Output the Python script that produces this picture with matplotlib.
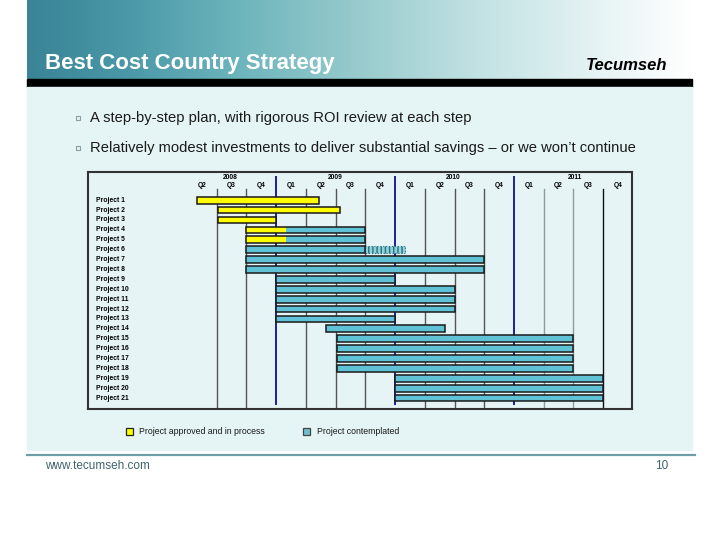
import numpy as np
import matplotlib
matplotlib.use("Agg")
import matplotlib.pyplot as plt
from matplotlib.colors import LinearSegmentedColormap
from matplotlib.patches import Rectangle

plt.rcParams["font.family"] = ["Liberation Sans", "DejaVu Sans"]

# ---- data ----
title = "Best Cost Country Strategy"
bullets = ["A step-by-step plan, with rigorous ROI review at each step",
           "Relatively modest investments to deliver substantial savings \u2013 or we won\u2019t continue"]
projects = ["Project %d" % i for i in range(1, 22)]
quarters = ["Q2", "Q3", "Q4",
            "Q1", "Q2", "Q3", "Q4",
            "Q1", "Q2", "Q3", "Q4",
            "Q1", "Q2", "Q3", "Q4"]
years = ["2008", "2009", "2010", "2011"]
year_pos = [1.45, 5.0, 8.95, 13.05]   # in quarters from 2008 Q2
nan = np.nan
# approved and in process (yellow), in quarters from start of 2008 Q2
approved_start = [0.33, 1.05, 1.05, 2.0, 2.0] + [nan] * 16
approved_end = [4.45, 5.15, 3.0, 3.33, 3.33] + [nan] * 16
# contemplated (cyan)
contemp_start = [nan, nan, nan, 3.33, 3.33, 2.0, 2.0, 2.0, 3.0, 3.0, 3.0,
                 3.0, 3.0, 4.67, 5.05, 5.05, 5.05, 5.05, 7.0, 7.0, 7.0]
contemp_end = [nan, nan, nan, 6.0, 6.0, 6.0, 10.0, 10.0, 7.0, 9.0, 9.0,
               9.0, 7.0, 8.67, 13.0, 13.0, 13.0, 13.0, 14.0, 14.0, 14.0]
# tentative extension (hatched)
tent_start = [nan] * 5 + [6.0] + [nan] * 15
tent_end = [nan] * 5 + [7.33] + [nan] * 15
legend_labels = ["Project approved and in process", "Project contemplated"]

YELLOW = "#ffff00"
CYAN = "#5fc2d6"

fig = plt.figure(figsize=(7.2, 5.4), dpi=100)

# ---- slide background (pixel coords) ----
bg = fig.add_axes([0, 0, 1, 1])
bg.set_xlim(0, 720)
bg.set_ylim(540, 0)
bg.axis("off")

cmap = LinearSegmentedColormap.from_list(
    "hdr", [(0.0, "#398496"), (0.15, "#4a98a8"), (0.32, "#6db5bc"),
            (0.50, "#98cbcd"), (0.68, "#c2e2e3"), (0.86, "#e6f3f4"),
            (1.0, "#ffffff")])
grad = np.linspace(0, 1, 256).reshape(1, -1)
bg.imshow(grad, cmap=cmap, aspect="auto", extent=[27, 692, 79, 0], zorder=0)
bg.add_patch(Rectangle((27, 79), 665, 8, color="black", zorder=1))
bg.add_patch(Rectangle((27, 87), 665, 363, color="#e5f4f5", zorder=1))
bg.plot([27, 695], [454.5, 454.5], color="#6f9fa6", lw=1.6, zorder=2)

bg.text(45, 63, title, color="white", fontsize=16, fontweight="bold",
        va="center", ha="left", zorder=3)
bg.text(627, 65, "Tecumseh", color="black", fontsize=12, fontweight="bold",
        fontstyle="italic", va="center", ha="center", zorder=3)

for k, b in enumerate(bullets):
    yy = 118 + 30 * k
    bg.plot(78, yy, marker="s", ms=2.6, mfc="#e5f4f5", mec="#8a9ea2", mew=0.8, zorder=3)
    bg.text(90, yy, b, fontsize=10.6, color="#1a1a1a", va="center", ha="left", zorder=3)

bg.text(45, 466, "www.tecumseh.com", fontsize=8.5, color="#40646b", va="center", zorder=3)
bg.text(668, 466, "10", fontsize=8.5, color="#40646b", va="center", ha="right", zorder=3)

# legend
bg.add_patch(Rectangle((125.5, 427.5), 7, 7, facecolor=YELLOW, edgecolor="#222222", lw=0.9, zorder=3))
bg.text(139, 431, legend_labels[0], fontsize=6.3, color="#1a1a1a", va="center", zorder=3)
bg.add_patch(Rectangle((302.5, 427.5), 7, 7, facecolor="#6fc0cc", edgecolor="#444444", lw=0.9, zorder=3))
bg.text(317, 431, legend_labels[1], fontsize=6.3, color="#1a1a1a", va="center", zorder=3)

# ---- gantt ----
x0, x1, y0, y1 = 88, 632, 172, 408.5
ax = fig.add_axes([x0 / 720, 1 - y1 / 540, (x1 - x0) / 720, (y1 - y0) / 540])
ax.set_facecolor("#e6f4f6")
ax.set_xlim(-3.33, 14.97)
ax.set_ylim(21.05, -2.85)
ax.set_xticks([])
ax.set_yticks([])
for s in ax.spines.values():
    s.set_color("#333333")
    s.set_linewidth(1.5)

# quarter boundary lines
for q in range(1, 15):
    if q in (3, 7, 11):
        ax.plot([q, q], [-2.35, 20.55], color="#1f1f9a", lw=1.4, zorder=1)
    else:
        c = "#111111" if q == 14 else ("#8f9c9e" if q in (12, 13) else "#555555")
        ax.plot([q, q], [-1.18, 21.05], color=c, lw=1.0, zorder=1)

for i, ql in enumerate(quarters):
    ax.text(i + 0.5, -1.45, ql, fontsize=4.8, fontweight="bold", ha="center", va="center")
for yl, xp in zip(years, year_pos):
    ax.text(xp, -2.25, yl, fontsize=4.8, fontweight="bold", ha="center", va="center")

h = 0.68
for i, p in enumerate(projects):
    ax.text(-3.06, i, p, fontsize=4.9, fontweight="bold", ha="left", va="center")
    starts, ends = [], []
    if not np.isnan(approved_start[i]):
        ax.barh(i, approved_end[i] - approved_start[i], left=approved_start[i], height=h,
                color=YELLOW, lw=0, zorder=2)
        starts.append(approved_start[i]); ends.append(approved_end[i])
    if not np.isnan(contemp_start[i]):
        ax.barh(i, contemp_end[i] - contemp_start[i], left=contemp_start[i], height=h,
                color=CYAN, lw=0, zorder=2)
        starts.append(contemp_start[i]); ends.append(contemp_end[i])
    if starts:
        ax.barh(i, max(ends) - min(starts), left=min(starts), height=h,
                facecolor="none", edgecolor="#1a1a1a", lw=1.1, zorder=3)
    if not np.isnan(tent_start[i]):
        ax.barh(i, tent_end[i] - tent_start[i], left=tent_start[i], height=h,
                facecolor="#8fd3df", edgecolor="#2c6e7a", hatch="||||", lw=0.8,
                linestyle=":", zorder=2)

fig.savefig("out.png", dpi=100)
